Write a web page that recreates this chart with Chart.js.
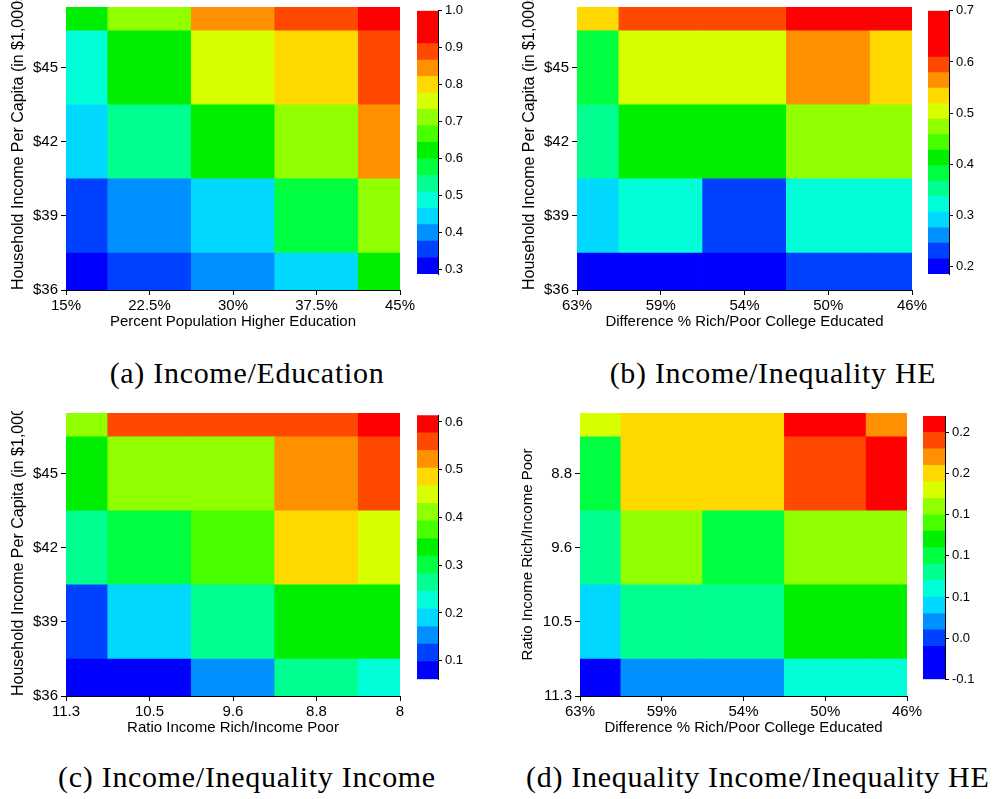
<!DOCTYPE html>
<html>
<head>
<meta charset="utf-8">
<script src="https://cdn.jsdelivr.net/npm/chart.js@4.4.1/dist/chart.umd.min.js"></script>
<style>
  html, body { margin: 0; padding: 0; background: #fff; }
  body { width: 995px; height: 799px; position: relative; overflow: hidden; }
  canvas { position: absolute; }
  .cap {
    position: absolute; white-space: nowrap; text-align: center; color: #000;
    font-family: 'Liberation Serif', 'Times New Roman', serif;
    font-size: 30px; line-height: 30px; letter-spacing: 0.7px;
  }
</style>
</head>
<body>
<div class="cap" style="left:47px; top:358px; width:400px;">(a) Income/Education</div>
<div class="cap" style="left:573px; top:358px; width:400px;">(b) Income/Inequality HE</div>
<div class="cap" style="left:47px; top:762px; width:400px;">(c) Income/Inequality Income</div>
<div class="cap" style="left:526px; top:762px; width:460px;">(d) Inequality Income/Inequality HE</div>
<script>
// stepped rainbow used by every colour bar (blue -> red)
const palette = ['#0000FF', '#0040FF', '#0090FF', '#00D8FF', '#00FFD8', '#00FF90', '#00FF40',
  '#00EE00', '#48FF00', '#90FF00', '#D8FF00', '#FFD800', '#FF9000', '#FF4800', '#FF0000'];

// axis tick labels
const eduLabels = ['15%', '22.5%', '30%', '37.5%', '45%'];
const gapHeLabels = ['63%', '59%', '54%', '50%', '46%'];
const ratioLabels = ['11.3', '10.5', '9.6', '8.8', '8'];
const incomeLabels = ['$36', '$39', '$42', '$45'];
const ratioAxisLabels = ['11.3', '10.5', '9.6', '8.8'];

// cell values, rows from the bottom of the y axis upwards
const incomeEduValues = [
  [0.31, 0.35, 0.40, 0.44, 0.62],
  [0.35, 0.40, 0.44, 0.58, 0.71],
  [0.44, 0.53, 0.62, 0.71, 0.84],
  [0.49, 0.62, 0.75, 0.80, 0.89],
  [0.62, 0.71, 0.84, 0.89, 0.98]
];
const incomeGapHeValues = [
  [0.20, 0.20, 0.20, 0.23, 0.23],
  [0.29, 0.32, 0.23, 0.32, 0.32],
  [0.35, 0.41, 0.41, 0.47, 0.47],
  [0.38, 0.50, 0.50, 0.56, 0.53],
  [0.53, 0.59, 0.59, 0.68, 0.68]
];
const incomeRatioValues = [
  [0.08, 0.08, 0.15, 0.26, 0.23],
  [0.12, 0.188, 0.26, 0.34, 0.34],
  [0.26, 0.30, 0.37, 0.49, 0.45],
  [0.34, 0.41, 0.41, 0.52, 0.558],
  [0.41, 0.558, 0.558, 0.558, 0.60]
];
const ratioGapHeValues = [
  [-0.04, 0.02, 0.02, 0.06, 0.06],
  [0.04, 0.08, 0.08, 0.12, 0.12],
  [0.08, 0.16, 0.10, 0.16, 0.16],
  [0.10, 0.20, 0.20, 0.24, 0.26],
  [0.18, 0.20, 0.20, 0.26, 0.22]
];

// colour bars: range, palette index of each band (bottom -> top), ticks
const bandsA = [0, 1, 2, 3, 4, 5, 6, 7, 8, 9, 10, 11, 12, 13, 14, 14];
const bandsB = [0, 1, 2, 3, 4, 5, 6, 7, 8, 9, 10, 11, 12, 13, 14, 14, 14];
const bandsC = [0, 1, 2, 3, 4, 5, 6, 7, 8, 9, 10, 11, 12, 13, 14];
const bandsD = [0, 0, 1, 2, 3, 4, 5, 6, 7, 8, 9, 10, 11, 12, 13, 14];
const rangeA = [0.287, 1.0];
const rangeB = [0.186, 0.7];
const rangeC = [0.061, 0.614];
const rangeD = [-0.05, 0.27];
const ticksA = [0.3, 0.4, 0.5, 0.6, 0.7, 0.8, 0.9, 1.0];
const tickLabelsA = ['0.3', '0.4', '0.5', '0.6', '0.7', '0.8', '0.9', '1.0'];
const ticksB = [0.2, 0.3, 0.4, 0.5, 0.6, 0.7];
const tickLabelsB = ['0.2', '0.3', '0.4', '0.5', '0.6', '0.7'];
const ticksC = [0.1, 0.2, 0.3, 0.4, 0.5, 0.6];
const tickLabelsC = ['0.1', '0.2', '0.3', '0.4', '0.5', '0.6'];
const ticksD = [-0.05, 0, 0.05, 0.1, 0.15, 0.2, 0.25];
const tickLabelsD = ['-0.1', '0.0', '0.1', '0.1', '0.1', '0.2', '0.2'];

Chart.defaults.font.family = "'Liberation Sans', Arial, sans-serif";
Chart.defaults.font.size = 15;
Chart.defaults.color = '#000';

function addCanvas(left, top, w, h) {
  const c = document.createElement('canvas');
  c.width = w; c.height = h;
  c.style.left = left + 'px'; c.style.top = top + 'px';
  document.body.appendChild(c);
  return c;
}

function colorFor(z, range, bands) {
  const n = bands.length;
  let k = Math.floor((z - range[0]) / (range[1] - range[0]) * n);
  k = Math.max(0, Math.min(n - 1, k));
  return palette[bands[k]];
}

function heatmap(box, xLabels, yLabels, values, range, bands, xTitle, yTitle, yAlign, yTitleSize) {
  const canvas = addCanvas(box.left, box.top, box.w, box.h);
  const datasets = values.map((row, i) => ({
    data: row.map(() => [i - 0.5, i + 0.5]),
    backgroundColor: row.map(z => colorFor(z, range, bands)),
    borderWidth: 0,
    grouped: false,
    barPercentage: 1,
    categoryPercentage: 1,
    clip: 0
  }));
  new Chart(canvas, {
    type: 'bar',
    data: { labels: xLabels, datasets: datasets },
    options: {
      responsive: false,
      animation: false,
      layout: { padding: { top: box.padTop, right: box.padRight, left: 0, bottom: 0 } },
      plugins: { legend: { display: false }, tooltip: { enabled: false } },
      scales: {
        x: {
          type: 'category',
          offset: false,
          grid: { display: true, offset: false, drawOnChartArea: false, tickLength: 5, color: '#000' },
          border: { display: true, color: '#000' },
          ticks: { maxRotation: 0, autoSkip: false, padding: 2 },
          title: { display: true, text: xTitle, padding: { top: 0, bottom: 3 } },
          afterFit: s => { s.height = 44; s.paddingLeft = 0; s.paddingRight = 0; }
        },
        y: {
          type: 'linear',
          min: 0,
          max: 3.82,
          afterBuildTicks: s => { s.ticks = yLabels.map((_, i) => ({ value: i })); },
          grid: { display: true, drawOnChartArea: false, tickLength: 5, color: '#000' },
          border: { display: true, color: '#000' },
          ticks: { padding: 3, callback: v => yLabels[v] },
          title: { display: true, text: yTitle, align: yAlign, font: { size: yTitleSize },
            padding: { top: 9, bottom: 0 } },
          afterFit: s => { s.width = box.yAxisWidth; s.paddingTop = 0; s.paddingBottom = 0; }
        }
      }
    }
  });
}

function colorbar(box, range, bands, tickVals, tickLabels) {
  const canvas = addCanvas(box.left, box.top, box.w, box.h);
  const step = (range[1] - range[0]) / bands.length;
  const datasets = bands.map((p, k) => ({
    data: [[range[0] + k * step, range[0] + (k + 1) * step]],
    backgroundColor: palette[p],
    borderWidth: 0,
    grouped: false,
    barPercentage: 1,
    categoryPercentage: 1
  }));
  new Chart(canvas, {
    type: 'bar',
    data: { labels: [''], datasets: datasets },
    options: {
      responsive: false,
      animation: false,
      layout: { padding: { top: box.padTop, bottom: box.padBottom, left: 0, right: 0 } },
      plugins: { legend: { display: false }, tooltip: { enabled: false } },
      scales: {
        x: { display: false },
        y: {
          position: 'right',
          min: range[0],
          max: range[1],
          afterBuildTicks: s => { s.ticks = tickVals.map(v => ({ value: v })); },
          grid: { display: true, drawOnChartArea: false, tickLength: 4, color: '#000' },
          border: { display: true, color: '#000' },
          ticks: { padding: 3, font: { size: 13 }, callback: (v, i) => tickLabels[i] },
          afterFit: s => { s.width = box.w - box.barWidth; s.paddingTop = 0; s.paddingBottom = 0; }
        }
      }
    }
  });
}

const incomeTitle = 'Household Income Per Capita (in $1,000s)';
const gapTitle = 'Difference % Rich/Poor College Educated';
const ratioTitle = 'Ratio Income Rich/Income Poor';

heatmap({ left: 0, top: 0, w: 416, h: 334, padTop: 7, padRight: 16, yAxisWidth: 66 },
  eduLabels, incomeLabels, incomeEduValues, rangeA, bandsA,
  'Percent Population Higher Education', incomeTitle, 'start', 16);
colorbar({ left: 417, top: 0, w: 60, h: 290, barWidth: 21, padTop: 10.7, padBottom: 16 },
  rangeA, bandsA, ticksA, tickLabelsA);

heatmap({ left: 511, top: 0, w: 417, h: 334, padTop: 7, padRight: 16, yAxisWidth: 66 },
  gapHeLabels, incomeLabels, incomeGapHeValues, rangeB, bandsB,
  gapTitle, incomeTitle, 'start', 16);
colorbar({ left: 928, top: 0, w: 62, h: 290, barWidth: 21, padTop: 10.7, padBottom: 16 },
  rangeB, bandsB, ticksB, tickLabelsB);

heatmap({ left: 0, top: 411, w: 416, h: 329, padTop: 2, padRight: 16, yAxisWidth: 66 },
  ratioLabels, incomeLabels, incomeRatioValues, rangeC, bandsC,
  ratioTitle, incomeTitle, 'start', 16);
colorbar({ left: 417, top: 400, w: 60, h: 290, barWidth: 21, padTop: 15.3, padBottom: 10.7 },
  rangeC, bandsC, ticksC, tickLabelsC);

heatmap({ left: 510, top: 411, w: 413, h: 329, padTop: 2, padRight: 16, yAxisWidth: 70 },
  gapHeLabels, ratioAxisLabels, ratioGapHeValues, rangeD, bandsD,
  gapTitle, ratioTitle, 'center', 15);
colorbar({ left: 923, top: 400, w: 70, h: 290, barWidth: 22, padTop: 16, padBottom: 10.7 },
  rangeD, bandsD, ticksD, tickLabelsD);
</script>
</body>
</html>
